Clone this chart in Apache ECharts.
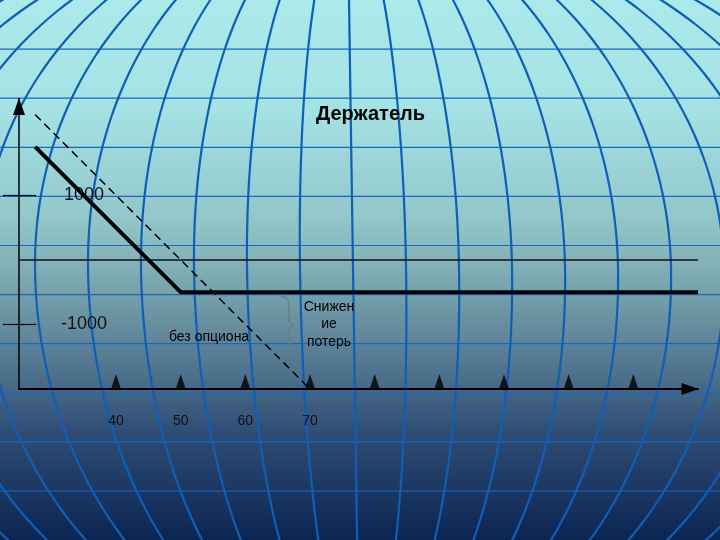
<!DOCTYPE html>
<html><head><meta charset="utf-8">
<script src="https://cdn.jsdelivr.net/npm/echarts@6/dist/echarts.min.js"></script>
<style>html,body{margin:0;padding:0}#c{width:720px;height:540px}</style>
</head><body><div id="c"></div>
<script>
// ---- data ----
const holderX = [27.5, 50, 130];
const holderY = [1750, -500, -500];
const noOptionX = [27.5, 70];
const noOptionY = [2250, -2000];
const triangleX = [40, 50, 60, 70, 80, 90, 100, 110, 120];
const xTickLabels = [40, 50, 60, 70];
const yTickLabels = [-1000, 1000];
const titleText = 'Держатель';
const noOptionText = 'без опциона';
const lossText = 'Снижен\nие\nпотерь';

// ---- decorative globe background ----
const meridianOffsets = [-530,-477,-424,-371,-318,-265,-212,-159,-106,-53,0,53,106,159,212,265,318,371,424,477,530];
const parallelRows = [1,2,3,4,5,6,7,8,9,10];
function gScale(y){
  const R = y < 270 ? 357 : 396;
  const t = (y - 270) / R;
  return Math.sqrt(Math.max(0, 1 - t * t));
}
const bg = [];
parallelRows.forEach(k => {
  const y = 49.1 * k;
  bg.push({type:'line', z:-10, silent:true, shape:{x1:0,y1:y,x2:720,y2:y},
    style:{stroke:'#1767c4', lineWidth:1.2}});
});
meridianOffsets.forEach(d => {
  const pts = [];
  for (let y = -10; y <= 550; y += 5) {
    pts.push([349 + 0.015 * y + d * gScale(y), y]);
  }
  bg.push({type:'polyline', z:-10, silent:true, shape:{points:pts},
    style:{stroke:'#0e5fb8', lineWidth:2.2, fill:null}});
});

const braceStyle = {stroke:'#6b7a80', lineWidth:1.2, fill:null};
const brace = [
  {type:'bezierCurve', z:10, silent:true, shape:{x1:280,y1:296,x2:289,y2:305,cpx1:289,cpy1:296}, style:braceStyle},
  {type:'line', z:10, silent:true, shape:{x1:289,y1:305,x2:289,y2:318}, style:braceStyle},
  {type:'bezierCurve', z:10, silent:true, shape:{x1:289,y1:318,x2:294,y2:325,cpx1:289,cpy1:324}, style:braceStyle},
  {type:'bezierCurve', z:10, silent:true, shape:{x1:294,y1:325,x2:289,y2:332,cpx1:289,cpy1:326}, style:braceStyle},
  {type:'line', z:10, silent:true, shape:{x1:289,y1:332,x2:289,y2:348}, style:braceStyle},
  {type:'bezierCurve', z:10, silent:true, shape:{x1:289,y1:348,x2:280,y2:357,cpx1:289,cpy1:357}, style:braceStyle}
];

const chart = echarts.init(document.getElementById('c'), null, {renderer:'canvas'});
const font = "'Liberation Sans', Arial, sans-serif";
chart.setOption({
  backgroundColor: {type:'linear', x:0, y:0, x2:0, y2:1, colorStops:[
    {offset:0, color:'#abe9eb'},
    {offset:0.2, color:'#a4e2e4'},
    {offset:0.4, color:'#93c7ca'},
    {offset:0.5, color:'#80aeb4'},
    {offset:0.65, color:'#5a7f95'},
    {offset:0.8, color:'#2f4d75'},
    {offset:1, color:'#0b2552'}
  ]},
  animation:false,
  grid:{left:19, right:22, top:98.5, height:290.5},
  xAxis:{
    type:'value', min:25, max:130,
    splitLine:{show:false},
    axisLine:{show:true, onZero:false, symbol:['none','triangle'], symbolSize:[12,17], symbolOffset:[0,-8],
      lineStyle:{color:'#000', width:2}},
    axisTick:{show:false},
    axisLabel:{customValues:xTickLabels, formatter:v=>String(v), fontSize:14, color:'#111', fontFamily:font, margin:25}
  },
  yAxis:[{
    type:'value', min:-2000, max:2500,
    splitLine:{show:false},
    axisLine:{show:true, onZero:false, symbol:['none','triangle'], symbolSize:[12,17], symbolOffset:[0,-8],
      lineStyle:{color:'#000', width:1.5}},
    axisTick:{show:true, customValues:yTickLabels, length:16, lineStyle:{color:'#000', width:1.2}},
    axisLabel:{customValues:yTickLabels, formatter:v=>String(v), inside:true, align:'center', margin:65, fontSize:18, color:'#111', fontFamily:font}
  },{
    type:'value', min:-2000, max:2500, position:'left',
    splitLine:{show:false}, axisLine:{show:false},
    axisTick:{show:true, inside:true, customValues:yTickLabels, length:17, lineStyle:{color:'#000', width:1.2}},
    axisLabel:{show:false}
  }],
  series:[{
    type:'line', name:'holder', symbol:'none',
    data: holderX.map((x,i)=>[x, holderY[i]]),
    lineStyle:{color:'#000', width:4},
    markLine:{silent:true, symbol:'none', label:{show:false},
      lineStyle:{color:'#111', width:1.5, type:'solid'}, data:[{yAxis:0}]},
    z:5
  },{
    type:'line', name:'noOption', symbol:'none',
    data: noOptionX.map((x,i)=>[x, noOptionY[i]]),
    lineStyle:{color:'#000', width:1.5, type:[8,5]},
    z:4
  },{
    type:'scatter', symbol:'triangle', symbolSize:[10,15], symbolOffset:[0,'-50%'],
    itemStyle:{color:'#000'},
    data: triangleX.map(x=>[x, -2000]),
    z:6
  }],
  graphic:[
    ...bg,
    {type:'text', z:10, left:316, top:104, style:{text:titleText, font:"bold 20px "+font, fill:'#000'}},
    {type:'text', z:10, left:169, top:330, style:{text:noOptionText, font:"14px "+font, fill:'#000'}},
    {type:'text', z:10, x:329, y:298, style:{text:lossText, font:"14px "+font, fill:'#000', align:'center', lineHeight:17.5}},
    ...brace
  ]
});
</script>
</body></html>
